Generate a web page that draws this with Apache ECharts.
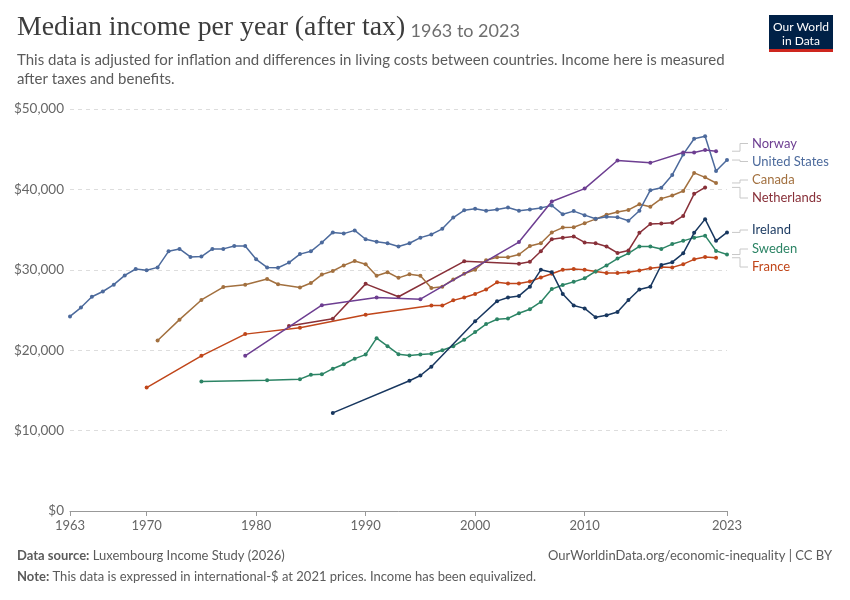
<!DOCTYPE html>
<html>
<head>
<meta charset="utf-8">
<script src="https://cdn.jsdelivr.net/npm/echarts@6/dist/echarts.min.js"></script>
<style>
  html, body { margin: 0; padding: 0; background: #fff; }
  #chart { width: 850px; height: 600px; }
</style>
</head>
<body>
<div id="chart"></div>
<script>
// -- data (international-$ at 2021 prices) --
var countries = ['Norway', 'United States', 'Canada', 'Netherlands', 'Ireland', 'Sweden', 'France'];
var colors = ['#6D3E91', '#4C6A9C', '#A2703F', '#883039', '#18375F', '#2C8465', '#C0461A'];
var xTicks = [1963, 1970, 1980, 1990, 2000, 2010, 2023];

var usYears = [1963, 1964, 1965, 1966, 1967, 1968, 1969, 1970, 1971, 1972, 1973, 1974, 1975, 1976, 1977, 1978, 1979,
	1980, 1981, 1982, 1983, 1984, 1985, 1986, 1987, 1988, 1989, 1990, 1991, 1992, 1993, 1994, 1995, 1996, 1997, 1998, 1999,
	2000, 2001, 2002, 2003, 2004, 2005, 2006, 2007, 2008, 2009, 2010, 2011, 2012, 2013, 2014, 2015, 2016, 2017, 2018, 2019,
	2020, 2021, 2022, 2023];
var usValues = [24200, 25300, 26650, 27300, 28150, 29300, 30100, 29950, 30300, 32300, 32600, 31600, 31650, 32600, 32600, 32950, 32950,
	31300, 30300, 30250, 30900, 31950, 32300, 33400, 34650, 34500, 34900, 33800, 33500, 33300, 32900, 33300, 34000, 34400, 35100, 36500, 37400,
	37600, 37350, 37500, 37750, 37350, 37500, 37700, 38000, 36900, 37300, 36800, 36350, 36600, 36550, 36100, 37350, 39900, 40200, 41800, 44350,
	46300, 46600, 42300, 43650];

var norwayYears = [1979, 1986, 1991, 1995, 2004, 2007, 2010, 2013, 2016, 2019, 2020, 2021, 2022];
var norwayValues = [19300, 25600, 26550, 26350, 33450, 38500, 40100, 43600, 43300, 44600, 44600, 44900, 44750];

var canadaYears = [1971, 1973, 1975, 1977, 1979, 1981, 1982, 1984, 1985, 1986, 1987, 1988, 1989, 1990, 1991, 1992, 1993,
	1994, 1995, 1996, 1997, 1998, 1999, 2000, 2001, 2002, 2003, 2004, 2005, 2006, 2007, 2008, 2009, 2010, 2011, 2012, 2013,
	2014, 2015, 2016, 2017, 2018, 2019, 2020, 2021, 2022];
var canadaValues = [21200, 23800, 26250, 27850, 28150, 28850, 28200, 27800, 28350, 29400, 29850, 30550, 31100, 30700, 29250, 29700, 29000,
	29450, 29250, 27750, 27900, 28800, 29500, 30000, 31200, 31550, 31550, 31900, 32950, 33300, 34650, 35250, 35300, 35800, 36300, 36850, 37200,
	37450, 38150, 37850, 38850, 39250, 39800, 42050, 41500, 40800];

var netherlandsYears = [1983, 1987, 1990, 1993, 1999, 2004, 2005, 2006, 2007, 2008, 2009, 2010, 2011, 2012, 2013, 2014,
	2015, 2016, 2017, 2018, 2019, 2020, 2021];
var netherlandsValues = [23000, 23900, 28250, 26650, 31050, 30750, 31000, 32300, 33800, 34000, 34150, 33400, 33300, 32900, 32100, 32400,
	34600, 35700, 35750, 35850, 36700, 39450, 40250];

var irelandYears = [1987, 1994, 1995, 1996, 2000, 2002, 2003, 2004, 2005, 2006, 2007, 2008, 2009, 2010, 2011, 2012, 2013,
	2014, 2015, 2016, 2017, 2018, 2019, 2020, 2021, 2022, 2023];
var irelandValues = [12200, 16200, 16850, 17950, 23600, 26100, 26550, 26750, 27900, 30000, 29700, 27000, 25550, 25200, 24100, 24350, 24750,
	26250, 27550, 27900, 30600, 30950, 32050, 34600, 36300, 33600, 34650];

var swedenYears = [1975, 1981, 1984, 1985, 1986, 1987, 1988, 1989, 1990, 1991, 1992, 1993, 1994, 1995, 1996, 1997, 1998,
	1999, 2000, 2001, 2002, 2003, 2004, 2005, 2006, 2007, 2008, 2009, 2010, 2011, 2012, 2013, 2014, 2015, 2016, 2017, 2018,
	2019, 2020, 2021, 2022, 2023];
var swedenValues = [16100, 16250, 16400, 16950, 17000, 17700, 18250, 18950, 19450, 21500, 20500, 19500, 19350, 19450, 19550, 20000, 20500,
	21300, 22250, 23250, 23850, 23950, 24600, 25100, 26000, 27600, 28100, 28500, 28950, 29800, 30550, 31400, 32050, 32900, 32900, 32600, 33200,
	33600, 34000, 34250, 32350, 31900];

var franceYears = [1970, 1975, 1979, 1984, 1990, 1996, 1997, 1998, 1999, 2000, 2001, 2002, 2003, 2004, 2005, 2006, 2007,
	2008, 2009, 2010, 2011, 2012, 2013, 2014, 2015, 2016, 2017, 2018, 2019, 2020, 2021, 2022];
var franceValues = [15350, 19300, 22000, 22800, 24400, 25550, 25550, 26200, 26550, 27000, 27550, 28450, 28300, 28300, 28550, 29050, 29500,
	30000, 30100, 30000, 29800, 29600, 29600, 29700, 29900, 30200, 30350, 30300, 30700, 31300, 31600, 31500];

var seriesYears = [norwayYears, usYears, canadaYears, netherlandsYears, irelandYears, swedenYears, franceYears];
var seriesValues = [norwayValues, usValues, canadaValues, netherlandsValues, irelandValues, swedenValues, franceValues];

function pairs(years, values) {
	var out = [];
	for (var i = 0; i < years.length; i++) {
		out.push([years[i], values[i]]);
	}
	return out;
}

function fmtDollar(v) {
	return '$' + v.toString().replace(/\B(?=(\d{3})+(?!\d))/g, ',');
}

var chart = echarts.init(document.getElementById('chart'));

var series = [];
for (var s = 0; s < countries.length; s++) {
	series.push({
		name: countries[s],
		type: 'line',
		data: pairs(seriesYears[s], seriesValues[s]),
		color: colors[s],
		symbol: 'circle',
		symbolSize: 4,
		showSymbol: true,
		lineStyle: { width: 1.5 },
		emphasis: { disabled: true },
		z: 10 - s
	});
}

var FONT = 'Lato';

var option = {
	animation: false,
	backgroundColor: '#fff',
	textStyle: { fontFamily: FONT },
	grid: { left: 70, right: 123, top: 109, bottom: 89 },
	xAxis: {
		type: 'value',
		min: 1963,
		max: 2023,
		splitLine: { show: false },
		axisLine: { show: true, lineStyle: { color: '#999', width: 1 } },
		axisTick: { show: true, customValues: xTicks, length: 5, lineStyle: { color: '#999' } },
		axisLabel: {
			customValues: xTicks,
			color: '#666',
			fontSize: 13,
			fontFamily: FONT,
			margin: 8,
			formatter: function (v) { return String(v); }
		}
	},
	yAxis: {
		type: 'value',
		min: 0,
		max: 50000,
		interval: 10000,
		axisLine: { show: false },
		axisTick: { show: false },
		splitLine: { show: true, lineStyle: { color: '#ddd', type: [4, 4], width: 1 } },
		axisLabel: {
			color: '#666',
			fontSize: 13.5,
			fontFamily: FONT,
			margin: 6,
			formatter: fmtDollar
		}
	},
	series: series,
	graphic: []
};

chart.setOption(option);

// header, footer, logo
var graphics = [
	{
		type: 'text', left: 17, top: 14,
		style: {
			text: '{t|Median income per year (after tax)} {s|1963 to 2023}',
			rich: {
				t: { font: '27.8px "Liberation Serif", serif', fill: '#3d3d3d', verticalAlign: 'bottom' },
				s: { font: '18px Lato', fill: '#6e6e6e', verticalAlign: 'bottom', padding: [0, 0, 2, 2] }
			}
		}
	},
	{
		type: 'text', left: 17, top: 51,
		style: {
			text: 'This data is adjusted for inflation and differences in living costs between countries. Income here is measured\nafter taxes and benefits.',
			font: '15px Lato', fill: '#5b5b5b', lineHeight: 19
		}
	},
	{
		type: 'rect', shape: { x: 769, y: 15, width: 64, height: 37 },
		style: { fill: '#002147' }
	},
	{
		type: 'rect', shape: { x: 769, y: 49, width: 64, height: 3 },
		style: { fill: '#CE261E' }
	},
	{
		type: 'text', x: 801, y: 20,
		style: {
			text: 'Our World\nin Data', font: '12px Lato', fill: '#fff',
			align: 'center', lineHeight: 14
		}
	},
	{
		type: 'text', left: 17, top: 549,
		style: {
			text: '{b|Data source:} Luxembourg Income Study (2026)',
			rich: { b: { fontWeight: 'bold', fontSize: 13, fontFamily: FONT, fill: '#5b5b5b' } },
			font: '13px Lato', fill: '#5b5b5b'
		}
	},
	{
		type: 'text', left: 17, top: 570,
		style: {
			text: '{b|Note:} This data is expressed in international-$ at 2021 prices. Income has been equivalized.',
			rich: { b: { fontWeight: 'bold', fontSize: 13, fontFamily: FONT, fill: '#5b5b5b' } },
			font: '13px Lato', fill: '#5b5b5b'
		}
	},
	{
		type: 'text', right: 18, top: 549,
		style: {
			text: 'OurWorldinData.org/economic-inequality | CC BY',
			font: '13px Lato', fill: '#5b5b5b'
		}
	}
];

// right-hand labels with elbow connectors
var labelY = [143.5, 161.5, 180, 198, 230, 249, 267];
for (var k = 0; k < countries.length; k++) {
	var ys = seriesYears[k], vs = seriesValues[k];
	var endPt = chart.convertToPixel({ gridIndex: 0 }, [ys[ys.length - 1], vs[vs.length - 1]]);
	var ey = endPt[1];
	graphics.push({
		type: 'polyline',
		shape: { points: [[732, ey], [740, ey], [740, labelY[k]], [748, labelY[k]]] },
		style: { stroke: '#c8c8c8', lineWidth: 1, fill: null }
	});
	graphics.push({
		type: 'text', x: 752, y: labelY[k],
		style: {
			text: countries[k], font: '13px Lato', fill: colors[k],
			verticalAlign: 'middle'
		}
	});
}

chart.setOption({ graphic: graphics });
</script>
</body>
</html>
